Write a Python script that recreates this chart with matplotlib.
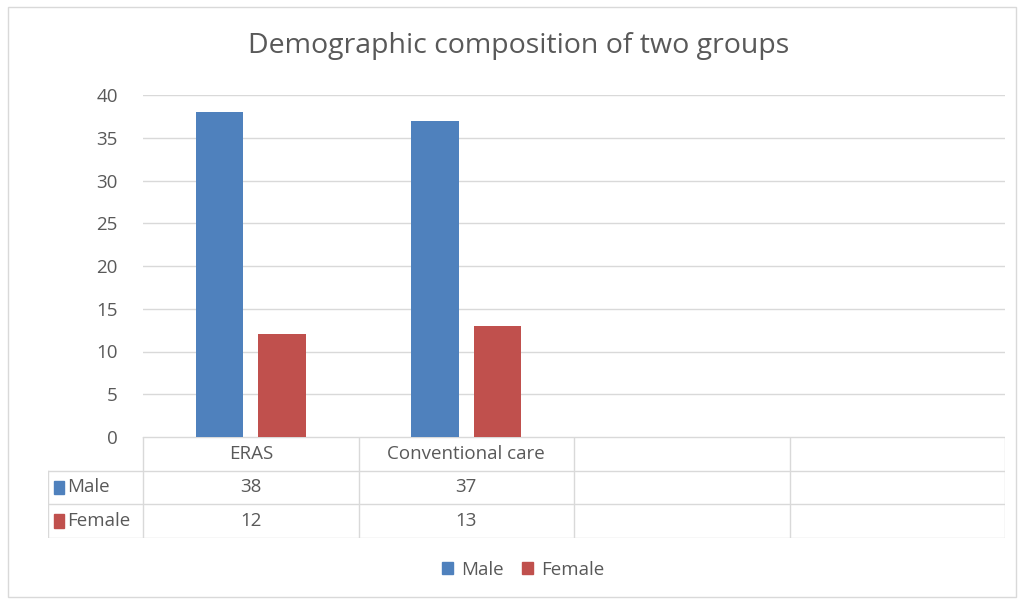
import matplotlib.pyplot as plt
from matplotlib.patches import Patch, Rectangle

# data
categories = ["ERAS", "Conventional care", "", ""]
series_names = ["Male", "Female"]
male = [38, 37, None, None]
female = [12, 13, None, None]
colors = ["#4F81BD", "#C0504D"]
title = "Demographic composition of two groups"
y_ticks = [0, 5, 10, 15, 20, 25, 30, 35, 40]

plt.rcParams['font.family'] = ['Open Sans', 'DejaVu Sans']
text_col = "#595959"
grid_col = "#D9D9D9"
fs = 13.5

W, H = 1020, 601
fig = plt.figure(figsize=(W / 100, H / 100), dpi=100)
fig.patch.set_facecolor("white")

# outer chart border
fig.patches.append(Rectangle((8 / W, 4 / H), 1008 / W, 590 / H, transform=fig.transFigure,
                             fill=False, edgecolor="#D9D9D9", lw=1))


def fx(px):
    return px / W


def fy(py):
    return 1 - py / H


# plot area
ax = fig.add_axes([fx(143), fy(437), fx(1005) - fx(143), fy(95) - fy(437)])
n = len(categories)
xs = list(range(n))
bar_w = 0.22
offs = [-0.145, 0.145]
for vals, off, c in zip([male, female], offs, colors):
    px = [x + off for x, v in zip(xs, vals) if v is not None]
    pv = [v for v in vals if v is not None]
    ax.bar(px, pv, width=bar_w, color=c, zorder=3)

ax.set_xlim(-0.5, n - 0.5)
ax.set_ylim(0, 40)
ax.set_yticks(y_ticks)
ax.set_yticklabels([str(t) for t in y_ticks], fontsize=fs, color=text_col)
ax.set_xticks([])
ax.tick_params(axis="y", length=0, pad=18)
ax.yaxis.grid(True, color=grid_col, lw=1, zorder=0)
for s in ax.spines.values():
    s.set_visible(False)

fig.text(0.508, fy(46), title, ha="center", va="center", fontsize=20.5, color=text_col)

# data table
left_w = (143 - 48) / ((1005 - 143) / n)
tax = fig.add_axes([fx(48), fy(538), fx(1005) - fx(48), fy(437) - fy(538)])
tax.set_xlim(-0.5 - left_w, n - 0.5)
tax.set_ylim(0, 3)
tax.axis("off")
lc = "#D9D9D9"
# horizontal lines
tax.plot([-0.5, n - 0.5], [3, 3], color=lc, lw=1)
for yy in [0, 1, 2]:
    tax.plot([-0.5 - left_w, n - 0.5], [yy, yy], color=lc, lw=1)
# vertical lines
tax.plot([-0.5 - left_w, -0.5 - left_w], [0, 2], color=lc, lw=1)
for k in range(n + 1):
    tax.plot([k - 0.5, k - 0.5], [0, 3], color=lc, lw=1)

for k, cat in enumerate(categories):
    tax.text(k, 2.5, cat, ha="center", va="center", fontsize=fs, color=text_col)
rows = [male, female]
for r, (name, vals, c) in enumerate(zip(series_names, rows, colors)):
    yc = 1.5 - r
    tax.add_patch(Rectangle((-0.5 - left_w + 0.03, yc - 0.2), 0.045, 0.4, color=c))
    tax.text(-0.5 - left_w + 0.09, yc, name, ha="left", va="center", fontsize=fs, color=text_col)
    for k, v in enumerate(vals):
        if v is not None:
            tax.text(k, yc, str(v), ha="center", va="center", fontsize=fs, color=text_col)

# legend
handles = [Patch(color=c, label=s) for s, c in zip(series_names, colors)]
fig.legend(handles=handles, loc="center", bbox_to_anchor=(fx(523), fy(570)), ncol=2,
           frameon=False, fontsize=fs, handlelength=0.6, handleheight=0.6,
           handletextpad=0.4, columnspacing=1.0, labelcolor=text_col)

fig.savefig("out.png", dpi=100)
